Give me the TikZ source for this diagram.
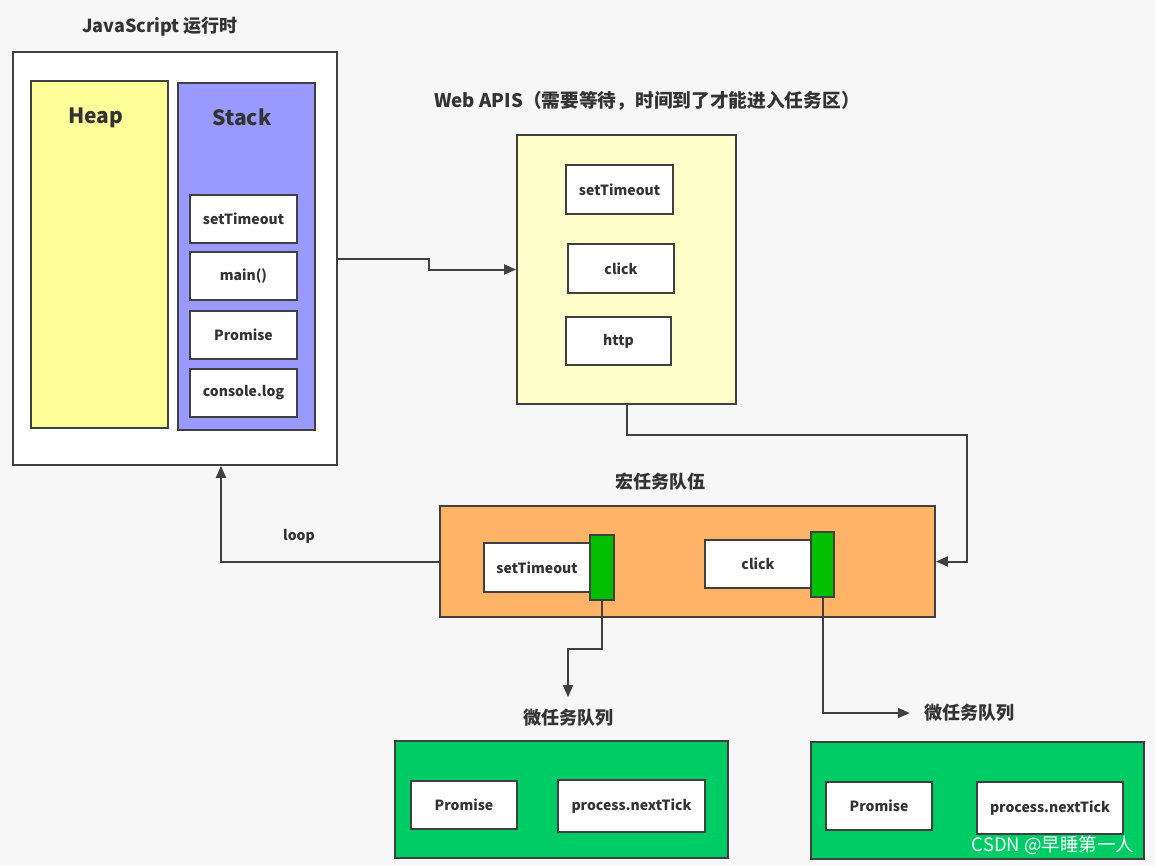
\documentclass[tikz,border=0pt]{standalone}
\usepackage{fontspec}
\setmainfont{Noto Sans CJK SC}
\usetikzlibrary{arrows.meta,calc}
\definecolor{bg}{HTML}{F7F7F7}
\definecolor{linec}{HTML}{404040}
\definecolor{txt}{HTML}{333333}
\definecolor{heapc}{HTML}{FFFF99}
\definecolor{stackc}{HTML}{9999FF}
\definecolor{webc}{HTML}{FFFFCC}
\definecolor{macroc}{HTML}{FFB366}
\definecolor{barc}{HTML}{00C000}
\definecolor{microc}{HTML}{00CC66}
\tikzset{
  frame/.style={draw=linec, line width=1.8pt, inner sep=0pt, text=txt},
  item/.style={frame, fill=white, font=\fontsize{14}{16}\selectfont\bfseries},
  title/.style={text=txt, inner sep=2pt, font=\fontsize{18}{20}\selectfont\bfseries},
  big/.style={text=txt, inner sep=2pt, font=\fontsize{21}{23}\selectfont\bfseries},
  small/.style={text=txt, inner sep=2pt, font=\fontsize{14}{16}\selectfont\bfseries},
  conn/.style={draw=linec, line width=2pt},
  arr/.style={conn, -{Triangle[length=12pt,width=10pt]}},
}
\begin{document}
\begin{tikzpicture}[x=1pt,y=-1pt]
\fill[bg] (0,0) rectangle (1155,865);
\useasboundingbox (0,0) rectangle (1155,865);
% JavaScript runtime
\node[title] (jst) at (160,27) {JavaScript 运行时};
\node[frame, fill=white, minimum width=324pt, minimum height=413pt] (js) at (175,258.5) {};
\node[frame, fill=heapc, minimum width=137pt, minimum height=347pt] (heap) at (99.5,254.5) {};
\node[big] (heapl) at (96,118) {Heap};
\node[frame, fill=stackc, minimum width=137pt, minimum height=347pt] (stack) at (246.5,256.5) {};
\node[big] (stackl) at (242,117) {Stack};
\node[item, minimum width=107pt, minimum height=48pt] (s1) at (243.5,219) {setTimeout};
\node[item, minimum width=107pt, minimum height=48pt] (s2) at (243.5,276) {main()};
\node[item, minimum width=107pt, minimum height=48pt] (s3) at (243.5,335) {Promise};
\node[item, minimum width=107pt, minimum height=48pt] (s4) at (243.5,393) {console.log};
% Web APIs
\node[title, font=\fontsize{18.7}{20}\selectfont\bfseries] (webt) at (647,101) {Web APIS（需要等待，时间到了才能进入任务区）};
\node[frame, fill=webc, minimum width=219pt, minimum height=269pt] (web) at (626.5,269.5) {};
\node[item, minimum width=107pt, minimum height=49pt] (w1) at (619.5,189.5) {setTimeout};
\node[item, minimum width=106pt, minimum height=49pt] (w2) at (621,268.5) {click};
\node[item, minimum width=105pt, minimum height=48pt] (w3) at (618.5,341) {http};
% Macro task queue
\node[title] (mact) at (660,482) {宏任务队伍};
\node[frame, fill=macroc, minimum width=495pt, minimum height=111pt] (macro) at (687.5,561.5) {};
\node[item, minimum width=106pt, minimum height=49pt] (m1) at (537,567.5) {setTimeout};
\node[frame, fill=barc, minimum width=24pt, minimum height=65pt] (g1) at (602,567.5) {};
\node[item, minimum width=106pt, minimum height=48pt] (m2) at (758,564) {click};
\node[frame, fill=barc, minimum width=23pt, minimum height=65pt] (g2) at (822.5,564.5) {};
\node[small] (loopl) at (299,536) {loop};
% Micro task queues
\node[title] (mi1t) at (568,718) {微任务队列};
\node[frame, fill=microc, minimum width=333pt, minimum height=117pt] (mi1) at (561.5,799.5) {};
\node[item, minimum width=106pt, minimum height=48pt] (p1) at (464,805) {Promise};
\node[item, minimum width=147pt, minimum height=52pt] (n1) at (631.5,806) {process.nextTick};
\node[title] (mi2t) at (969,713) {微任务队列};
\node[frame, fill=microc, minimum width=333pt, minimum height=117pt] (mi2) at (977.5,800.5) {};
\node[item, minimum width=106pt, minimum height=48pt] (p2) at (879,806) {Promise};
\node[item, minimum width=146pt, minimum height=52pt] (n2) at (1050,808) {process.nextTick};
\node[text=white, inner sep=0pt, font=\fontsize{18.5}{20}\selectfont] (wm) at (1053,845) {CSDN @早睡第一人};
% connectors
\coordinate (c1) at (967,435);
\draw[arr] (js.east) -- ++(91,0) |- (web.west);
\draw[arr] (web.south) |- (c1) |- (macro.east);
\draw[arr] (macro.west) -| ([xshift=46pt]js.south);
\draw[arr, shorten >=10pt] (g1.south) -- ++(0,48) -| (mi1t.north);
\draw[arr, shorten >=12pt] (g2.south) |- (mi2t.west);
\end{tikzpicture}
\end{document}
